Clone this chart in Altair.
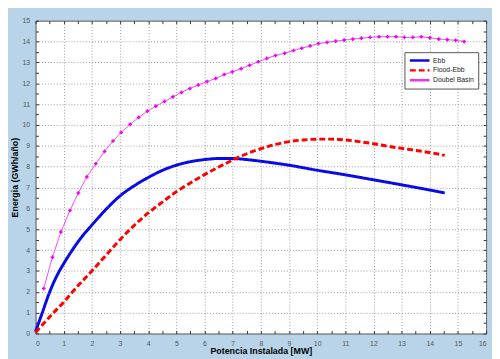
import altair as alt
import pandas as pd

series_names = ["Ebb", "Flood-Ebb", "Doubel Basin"]
colors = ["#0a0ae6", "#ff0000", "#ee33ee"]

ebb_x = [0.0, 0.24, 0.47, 0.75, 1.0, 1.33, 1.65, 2.0, 2.5, 3.0, 3.5, 4.0, 4.5, 5.0, 5.5, 6.0, 6.5, 7.0, 7.5, 8.0, 9.0, 10.0, 11.0, 12.0, 13.0, 14.0, 14.53]
ebb_y = [0.1, 1.0, 1.88, 2.75, 3.35, 4.05, 4.65, 5.2, 5.95, 6.6, 7.08, 7.48, 7.82, 8.07, 8.24, 8.34, 8.39, 8.39, 8.34, 8.26, 8.07, 7.83, 7.61, 7.37, 7.13, 6.88, 6.74]

flood_x = [0.0, 0.64, 1.0, 1.28, 2.0, 2.5, 3.0, 3.5, 4.0, 4.5, 5.0, 5.5, 6.0, 6.5, 7.0, 7.5, 8.0, 8.5, 9.0, 9.5, 10.0, 10.5, 11.0, 11.5, 12.0, 12.5, 13.0, 13.5, 14.0, 14.53]
flood_y = [0.05, 1.0, 1.5, 1.95, 3.0, 3.75, 4.5, 5.18, 5.78, 6.3, 6.8, 7.22, 7.62, 7.98, 8.32, 8.62, 8.86, 9.06, 9.2, 9.28, 9.32, 9.32, 9.28, 9.2, 9.1, 8.98, 8.88, 8.78, 8.68, 8.54]

db_x = [0.29, 0.6, 0.9, 1.22, 1.52, 1.82, 2.14, 2.45, 2.75, 3.04, 3.36, 3.66, 3.97, 4.27, 4.58, 4.88, 5.18, 5.48, 5.78, 6.09, 6.4, 6.7, 6.99, 7.3, 7.6, 7.91, 8.21, 8.52, 8.85, 9.16, 9.45, 9.75, 10.05, 10.35, 10.66, 10.96, 11.27, 11.57, 11.88, 12.2, 12.5, 12.8, 13.1, 13.4, 13.7, 14.0, 14.32, 14.62, 14.92, 15.22]
db_y = [2.16, 3.66, 4.87, 5.9, 6.74, 7.51, 8.14, 8.73, 9.23, 9.64, 10.03, 10.36, 10.66, 10.9, 11.13, 11.35, 11.56, 11.75, 11.92, 12.08, 12.23, 12.42, 12.55, 12.7, 12.86, 13.03, 13.19, 13.33, 13.44, 13.57, 13.68, 13.79, 13.9, 13.96, 14.02, 14.07, 14.12, 14.16, 14.2, 14.23, 14.23, 14.23, 14.2, 14.2, 14.23, 14.18, 14.12, 14.09, 14.06, 14.0]

x_ticks = [i * 0.5 for i in range(33)]
y_ticks = [i * 0.5 for i in range(31)]


def frame(name, xs_, ys_):
    return pd.DataFrame({"serie": name, "x": xs_, "y": ys_, "order": list(range(len(xs_)))})


df_ebb = frame("Ebb", ebb_x, ebb_y)
df_flood = frame("Flood-Ebb", flood_x, flood_y)
df_db = frame("Doubel Basin", db_x, db_y)

FONT = "Liberation Sans"
int_test = "datum.value % 1 == 0"
lbl_expr = "datum.value % 1 == 0 ? format(datum.value, 'd') : ''"

x_main = alt.Axis(
    values=x_ticks, orient="bottom", offset=-3, tickSize=3, tickColor="#333",
    labelExpr=lbl_expr, labelFont=FONT, labelFontSize=7,
    labelColor="#555", labelPadding=6, domain=False,
    grid=True, gridColor="#9a9a9a", gridDash=[1, 2],
    gridOpacity=alt.ConditionalAxisNumber(condition={"test": int_test, "value": 1}, value=0),
    title="Potencia Instalada [MW]", titleFont=FONT, titleFontSize=9, titleFontWeight="bold",
    titleColor="#000", titlePadding=0,
)
y_main = alt.Axis(
    values=y_ticks, orient="left", offset=-3, tickSize=3, tickColor="#333",
    labelExpr=lbl_expr, labelFont=FONT, labelFontSize=7,
    labelColor="#555", labelPadding=6, domain=False,
    grid=True, gridColor="#9a9a9a", gridDash=[1, 2],
    gridOpacity=alt.ConditionalAxisNumber(condition={"test": int_test, "value": 1}, value=0),
    title="Energia (GWh/año)", titleFont=FONT, titleFontSize=9, titleFontWeight="bold",
    titleColor="#000", titlePadding=3,
)
x_top = alt.Axis(values=x_ticks, orient="top", offset=-3, tickSize=3, tickColor="#333",
                 labels=False, domain=False, grid=False, title=None)
y_right = alt.Axis(values=y_ticks, orient="right", offset=-3, tickSize=3, tickColor="#333",
                   labels=False, domain=False, grid=False, title=None)

xs = alt.Scale(domain=[0, 16], nice=False, zero=False)
ys = alt.Scale(domain=[0, 15], nice=False, zero=False)

legend = alt.Legend(
    title=None, orient="none", legendX=375, legendY=32,
    symbolType="stroke", symbolSize=400, symbolStrokeWidth=2.5,
    labelFont=FONT, labelFontSize=7, labelColor="#222",
    fillColor="white", strokeColor="#555", padding=4, rowPadding=1,
    clipHeight=9, labelOffset=2,
)
color_enc = alt.Color("serie:N", scale=alt.Scale(domain=series_names, range=colors), legend=legend)
dash_enc = alt.StrokeDash("serie:N", scale=alt.Scale(domain=series_names, range=[[1, 0], [6, 3], [1, 0]]), legend=legend)


def line_layer(df, width, interp):
    return alt.Chart(df).mark_line(strokeWidth=width, interpolate=interp).encode(
        x=alt.X("x:Q", scale=xs, axis=x_main),
        y=alt.Y("y:Q", scale=ys, axis=y_main),
        color=color_enc,
        strokeDash=dash_enc,
        order="order:Q",
    )


ebb = line_layer(df_ebb, 3, "monotone")
flood = line_layer(df_flood, 3, "monotone")
db = line_layer(df_db, 1, "linear")

pts = alt.Chart(df_db).mark_point(
    shape="cross", filled=True, size=14, color="#ee00ee", opacity=1
).encode(
    x=alt.X("x:Q", scale=xs, axis=x_top),
    y=alt.Y("y:Q", scale=ys, axis=y_right),
)

main = alt.layer(ebb, flood, db)
chart = alt.layer(main, pts).resolve_axis(x="independent", y="independent").properties(
    width=458, height=318,
    background="#b9d4e8",
    padding={"left": 28, "top": 10, "right": 6, "bottom": 23},
    autosize=alt.AutoSizeParams(type="none"),
).configure_view(stroke="#555", strokeWidth=1, fill="white")

chart.save("out.html", embed_options={"renderer": "svg", "actions": False})
